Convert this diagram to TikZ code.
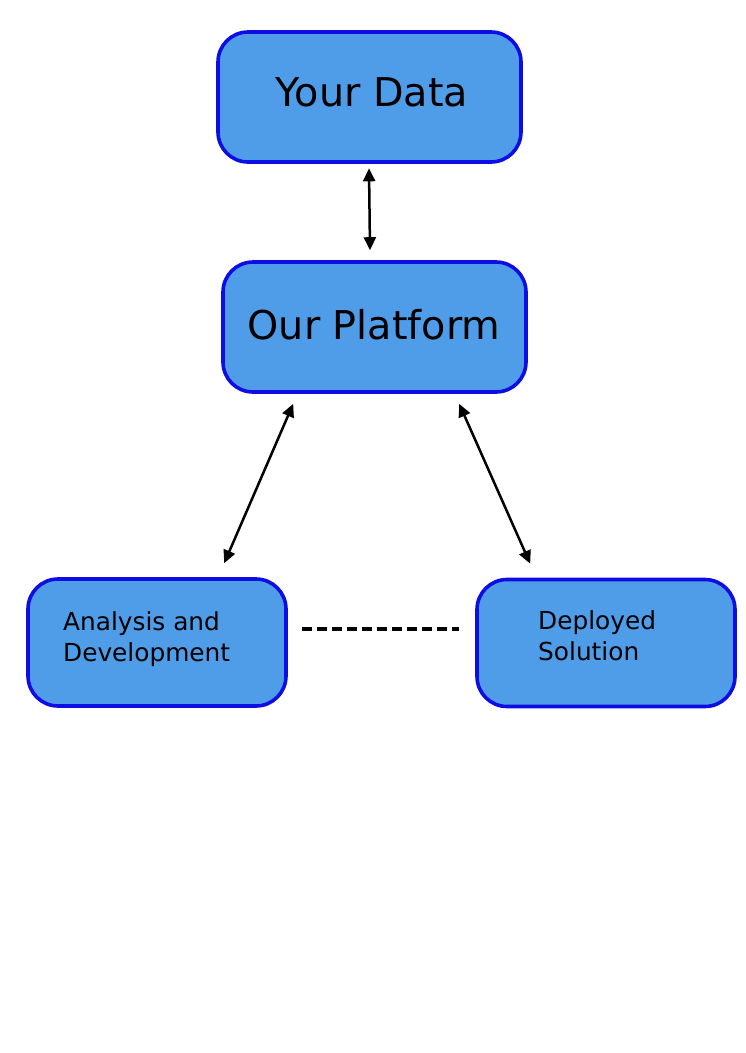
\documentclass[tikz,border=0pt]{standalone}
\usepackage{fontspec}
\setmainfont{DejaVu Sans}
\usetikzlibrary{arrows.meta,calc}
\definecolor{boxfill}{RGB}{79,157,232}
\definecolor{boxline}{RGB}{14,14,228}
\begin{document}
\begin{tikzpicture}[x=1pt,y=-1pt,
  box/.style={draw=boxline, fill=boxfill, line width=3.6pt, rounded corners=30pt, inner sep=0pt},
  bigbox/.style={box, minimum width=303pt, minimum height=130pt},
  smallbox/.style={box, minimum width=258pt, minimum height=127pt},
  bigtext/.style={font=\fontsize{39.7}{47}\selectfont, inner sep=0pt},
  smalltext/.style={font=\fontsize{24.8}{31}\selectfont, align=left, inner sep=0pt},
  arr/.style={{Triangle[length=13pt,width=12pt]}-{Triangle[length=13pt,width=12pt]}, line width=2.5pt},
  dashline/.style={line width=3.2pt, dash pattern=on 10pt off 5pt}
]
\useasboundingbox (0,0) rectangle (745,1053);
\node[bigbox] (data) at (369.5,97) {};
\node[bigtext] (datat) at (372,92) {Your Data};
\node[bigbox] (plat) at (374.5,327) {};
\node[bigtext] (platt) at (374,325) {Our Platform};
\node[smallbox] (ana) at (157,642.5) {};
\node[smalltext, anchor=west] (anat) at (63,639) {Analysis and\\Development};
\node[smallbox] (dep) at (606,643) {};
\node[smalltext, anchor=west] (dept) at (538,636) {Deployed\\Solution};
\draw[arr] ($(data.south)+(-0.5,4.5)$) -- ($(plat.north)+(-4.5,-10)$);
\draw[arr] ($(plat.south west)+(72,10)$) -- ($(ana.north west)+(198,-14)$);
\draw[arr] ($(plat.south west)+(238,10)$) -- ($(dep.north west)+(55,-14)$);
\draw[dashline] ($(ana.east)+(14,-13.5)$) -- ($(dep.west)+(-16,-14)$);
\end{tikzpicture}
\end{document}
